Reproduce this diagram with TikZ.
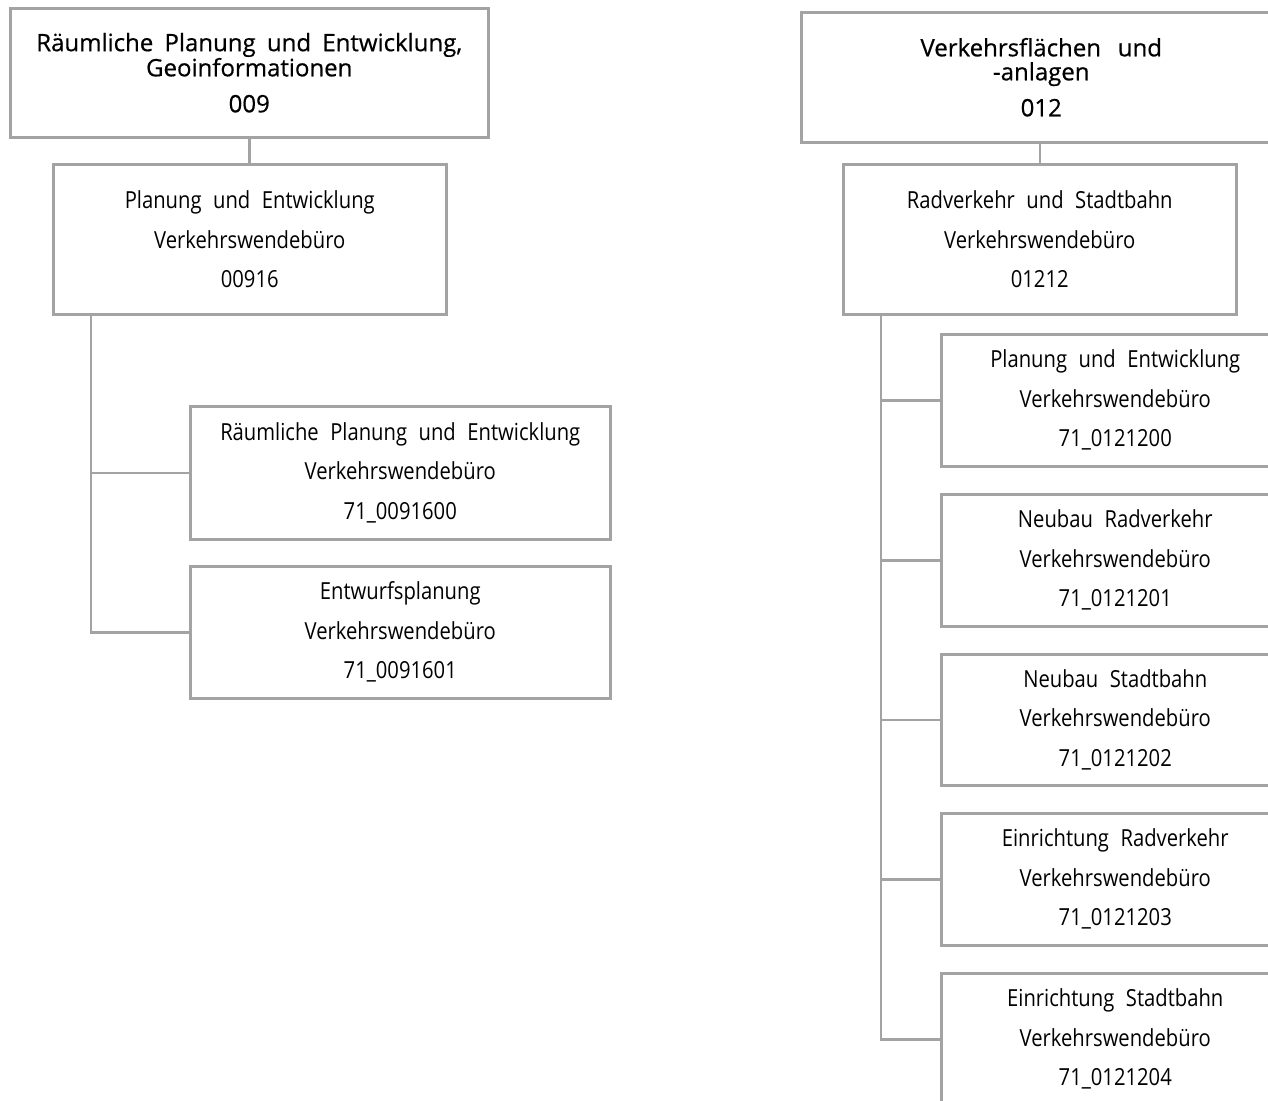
\documentclass[tikz,border=0pt]{standalone}
\usepackage{fontspec}
\setmainfont[FakeStretch=0.86, WordSpace=2.2]{Open Sans}
\newfontfamily\headfont[FakeBold=0.6, WordSpace=1.8]{Open Sans}
\definecolor{lin}{HTML}{A3A3A3}
\begin{document}
\begin{tikzpicture}[x=1pt,y=-1pt,
  box/.style={draw=lin, line width=2.5pt, inner sep=0pt, align=center, anchor=north west, text=black},
  sub/.style={box, font=\fontsize{23.5}{39.5}\selectfont},
  head/.style={box, font=\headfont\fontsize{24}{24}\selectfont},
  conn/.style={draw=lin, line width=2.5pt}]
\useasboundingbox (0,0) rectangle (1268,1100);
\clip (0,0) rectangle (1268,1100);
% left column
\node[head, minimum width=478pt, minimum height=129pt] (A) at (9,7)
  {Räumliche Planung und Entwicklung,\\Geoinformationen\\[12pt]009};
\node[sub, minimum width=393pt, minimum height=150pt] (B) at (52,163)
  {Planung und Entwicklung\\Verkehrswendebüro\\00916};
\node[sub, minimum width=420pt, minimum height=133pt] (C) at (189,405)
  {Räumliche Planung und Entwicklung\\Verkehrswendebüro\\71\_0091600};
\node[sub, minimum width=420pt, minimum height=132pt] (D) at (189,565)
  {Entwurfsplanung\\Verkehrswendebüro\\71\_0091601};
\coordinate (t1) at (91,313);
\draw[conn] (A.south) -- (A.south |- B.north);
\draw[conn] (t1) |- (C.west);
\draw[conn] (t1) |- (D.west);
% right column
\node[head, minimum width=480pt, minimum height=130pt] (E) at (800,11)
  {Verkehrsflächen\hspace{0.7em}und\\-anlagen\\[12pt]012};
\node[sub, minimum width=393pt, minimum height=150pt] (F) at (842,163)
  {Radverkehr und Stadtbahn\\Verkehrswendebüro\\01212};
\node[sub, minimum width=348pt, minimum height=132pt] (G1) at (940,333)
  {Planung und Entwicklung\\Verkehrswendebüro\\71\_0121200};
\node[sub, minimum width=348pt, minimum height=132pt] (G2) at (940,493)
  {Neubau Radverkehr\\Verkehrswendebüro\\71\_0121201};
\node[sub, minimum width=348pt, minimum height=131pt] (G3) at (940,653)
  {Neubau Stadtbahn\\Verkehrswendebüro\\71\_0121202};
\node[sub, minimum width=348pt, minimum height=132pt] (G4) at (940,812)
  {Einrichtung Radverkehr\\Verkehrswendebüro\\71\_0121203};
\node[sub, minimum width=348pt, minimum height=132pt] (G5) at (940,972)
  {Einrichtung Stadtbahn\\Verkehrswendebüro\\71\_0121204};
\coordinate (t2) at (881,313);
\draw[conn] (E.south -| F.north) -- (F.north);
\draw[conn] (t2) |- (G1.west);
\draw[conn] (t2) |- (G2.west);
\draw[conn] (t2) |- (G3.west);
\draw[conn] (t2) |- (G4.west);
\draw[conn] (t2) |- (G5.west);
\end{tikzpicture}
\end{document}
